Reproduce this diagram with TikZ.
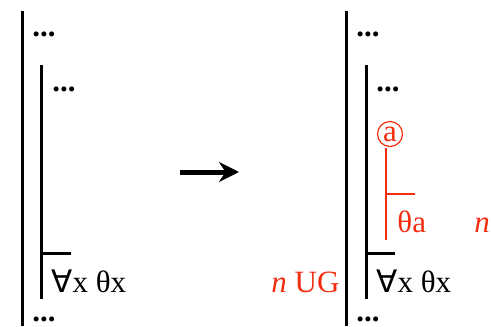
\documentclass[tikz,border=0pt]{standalone}
\usepackage{fontspec}
\setmainfont{Liberation Serif}
\newfontfamily\symfont{DejaVu Sans}
\usepackage{xcolor}
\usetikzlibrary{arrows.meta}
\definecolor{rulered}{RGB}{245,45,15}

\begin{document}
\begin{tikzpicture}[x=0.5pt,y=-0.5pt,
    txt/.style={inner sep=0pt,anchor=base west,font=\fontsize{15.5}{18}\selectfont},
    bar/.style={line width=1.5pt},
    redbar/.style={line width=1.2pt,rulered}]
        \useasboundingbox (0,0) rectangle (491,326);

        % Before: proof with a universal conclusion
        \coordinate (lotop) at (22,11);
        \coordinate (lobot) at (22,326);
        \coordinate (litop) at (41,65);
        \coordinate (libot) at (41,299);
        \coordinate (ltick) at (41,253);
        \coordinate (ltickend) at (71,253);
        \draw[bar] (lotop) -- (lobot);
        \draw[bar] (litop) -- (libot);
        \draw[bar] (ltick) -- (ltickend);
        \node[txt] (ldots1) at (32,37) {\textbf{...}};
        \node[txt] (ldots2) at (52,91) {\textbf{...}};
        \node[txt] (lall) at (51,292) {{\symfont ∀}x θx};
        \node[txt] (ldots3) at (32,321) {\textbf{...}};

        % Rewrite arrow
        \coordinate (arrfrom) at (180,172);
        \coordinate (arrto) at (239,172);
        \draw[line width=2.5pt,-{Stealth[length=10pt,width=10pt]}] (arrfrom) -- (arrto);

        % After: subproof on a fresh name, closed by UG
        \coordinate (rotop) at (346,11);
        \coordinate (robot) at (346,326);
        \coordinate (ritop) at (366,65);
        \coordinate (ribot) at (366,299);
        \coordinate (rtick) at (366,253);
        \coordinate (rtickend) at (395,253);
        \draw[bar] (rotop) -- (robot);
        \draw[bar] (ritop) -- (ribot);
        \draw[bar] (rtick) -- (rtickend);
        \node[txt] (rdots1) at (356,37) {\textbf{...}};
        \node[txt] (rdots2) at (376,91) {\textbf{...}};
        \node[circle,draw=rulered,line width=0.6pt,inner sep=0pt,minimum size=12.5pt,
              text=rulered,font=\fontsize{15.5}{18}\selectfont] (flag) at (390,134) {a};
        \coordinate (sbtop) at (386,148);
        \coordinate (sbbot) at (386,240);
        \coordinate (sbtick) at (386,194);
        \coordinate (sbtickend) at (415,194);
        \draw[redbar] (sbtop) -- (sbbot);
        \draw[redbar] (sbtick) -- (sbtickend);
        \node[txt,text=rulered] (inst) at (397,232) {θa};
        \node[txt,text=rulered] (lineno) at (474,232) {\textit{n}};
        \node[txt] (rall) at (376,292) {{\symfont ∀}x θx};
        \node[txt,text=rulered] (ug) at (271,292) {\textit{n} UG};
        \node[txt] (rdots3) at (356,321) {\textbf{...}};
    \end{tikzpicture}
\end{document}
